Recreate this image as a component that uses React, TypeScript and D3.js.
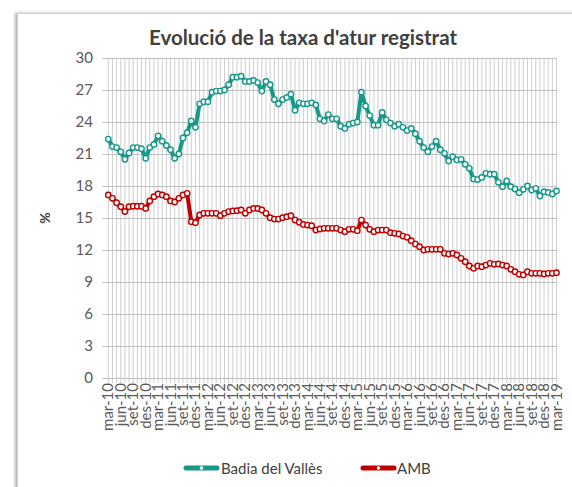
import React from 'react';
import * as d3 from 'd3';

const monthNames = ['mar', 'abr', 'mai', 'jun', 'jul', 'ago', 'set', 'oct', 'nov', 'des', 'gen', 'feb'];
const categories: string[] = Array.from({ length: 109 }, (_, i) => `${monthNames[i % 12]}-${10 + Math.floor((i + 2) / 12)}`);

const tickLabels = [
  'mar-10', 'jun-10', 'set-10', 'des-10', 'mar-11', 'jun-11', 'set-11', 'des-11',
  'mar-12', 'jun-12', 'set-12', 'des-12', 'mar-13', 'jun-13', 'set-13', 'des-13',
  'mar-14', 'jun-14', 'set-14', 'des-14', 'mar-15', 'jun-15', 'set-15', 'des-15',
  'mar-16', 'jun-16', 'set-16', 'des-16', 'mar-17', 'jun-17', 'set-17', 'des-17',
  'mar-18', 'jun-18', 'set-18', 'des-18', 'mar-19',
];

const yTicks = [0, 3, 6, 9, 12, 15, 18, 21, 24, 27, 30];

const badia = [
  22.4, 21.7, 21.6, 21.2, 20.5, 21.1, 21.6, 21.6, 21.5, 20.6,
  21.6, 21.9, 22.7, 22.2, 21.8, 21.4, 20.6, 21.0, 22.5, 23.0, 24.1, 23.5,
  25.7, 25.9, 25.9, 26.8, 26.9, 26.9, 27.0, 27.5, 28.2, 28.2, 28.3, 27.8,
  27.8, 27.9, 27.7, 26.9, 27.8, 27.5, 26.1, 25.7, 26.1, 26.3, 26.6, 25.1,
  25.8, 25.7, 25.7, 25.8, 25.6, 24.3, 24.1, 24.7, 24.3, 24.3, 23.6, 23.4,
  23.8, 23.9, 24.0, 26.8, 25.5, 24.6, 23.7, 23.7, 24.9, 24.2, 23.9, 23.6,
  23.8, 23.5, 23.2, 23.4, 22.9, 22.2, 21.6, 21.2, 21.7, 22.2, 21.4, 21.06,
  20.34, 20.75, 20.44, 20.5, 20.03, 19.66, 18.66, 18.6, 18.8, 19.19, 19.1, 19.1,
  18.34, 17.94, 18.47, 17.94, 17.72, 17.37, 17.69, 18.0, 17.62, 17.78, 17.06, 17.47,
  17.4, 17.25, 17.53,
];

const amb = [
  17.16, 16.84, 16.43, 16.06, 15.6, 16.06, 16.1, 16.1, 16.1, 15.9,
  16.6, 17.0, 17.25, 17.16, 17.0, 16.6, 16.5, 16.84, 17.16, 17.31, 14.66, 14.56,
  15.28, 15.44, 15.44, 15.44, 15.44, 15.22, 15.44, 15.6, 15.66, 15.69, 15.75, 15.44,
  15.75, 15.9, 15.9, 15.75, 15.44, 15.03, 14.9, 14.9, 15.03, 15.12, 15.22, 14.81,
  14.6, 14.4, 14.34, 14.28, 13.87, 13.97, 14.03, 14.03, 14.03, 14.03, 13.87, 13.72,
  13.94, 13.94, 13.81, 14.81, 14.34, 13.94, 13.72, 13.87, 13.87, 13.87, 13.62, 13.56,
  13.5, 13.31, 13.19, 12.87, 12.56, 12.31, 12.0, 12.06, 12.06, 12.06, 12.06, 11.69,
  11.62, 11.69, 11.53, 11.22, 10.9, 10.5, 10.28, 10.5, 10.44, 10.59, 10.75, 10.66,
  10.69, 10.59, 10.5, 10.19, 9.97, 9.72, 9.66, 9.97, 9.81, 9.81, 9.81, 9.75,
  9.81, 9.81, 9.87,
];

const seriesNames = ['Badia del Vallès', 'AMB'];
const seriesColors = ['#16998a', '#c00000'];

const FONT = 'Lato, "Open Sans", sans-serif';

export default function App() {
  const W = 572, H = 487;
  const left = 108.3, right = 556.5, top = 58, bottom = 378;
  const x = d3.scalePoint<string>().domain(categories).range([left, right]);
  const y = d3.scaleLinear().domain([0, 30]).range([bottom, top]);
  const line = d3.line<number>()
    .x((_, i) => x(categories[i]) as number)
    .y((d) => y(d));
  const series = [badia, amb];

  return (
    <svg width={W} height={H} style={{ position: 'absolute', left: 0, top: 0, background: '#fff' }}
      xmlns="http://www.w3.org/2000/svg">
      <defs>
        <filter id="shadow" x="-5%" y="-5%" width="110%" height="110%">
          <feDropShadow dx="-2" dy="0" stdDeviation="1.5" floodColor="#808080" floodOpacity="0.6" />
        </filter>
      </defs>
      <rect x={0} y={0} width={W} height={H} fill="#fff" />
      <rect x={17.5} y={13.5} width={580} height={500} fill="#fff" stroke="#d0d0d0" strokeWidth={1} filter="url(#shadow)" />

      <text x={303} y={45} textAnchor="middle" fontFamily={FONT} fontWeight="bold" fontSize={20.5} fill="#404040">
        Evolució de la taxa d'atur registrat
      </text>

      {categories.map((c) => (
        <line key={c} x1={x(c)} x2={x(c)} y1={top} y2={bottom + 5} stroke="#cfcfcf" strokeWidth={1} />
      ))}
      {yTicks.map((t) => (
        <line key={t} x1={left - 6} x2={right} y1={Math.round(y(t)) + 0.5} y2={Math.round(y(t)) + 0.5} stroke="#bfbfbf" strokeWidth={1} />
      ))}
      {yTicks.map((t) => (
        <text key={'l' + t} x={93} y={y(t) + 5} textAnchor="end" fontFamily={FONT} fontSize={15} fill="#595959">{t}</text>
      ))}
      <text transform={`translate(50,218) rotate(-90)`} textAnchor="middle" fontFamily={FONT} fontWeight="bold" fontSize={14} fill="#404040">%</text>

      {tickLabels.map((lab) => (
        <text key={lab} transform={`translate(${(x(lab) as number) + 5},${bottom + 5}) rotate(-90)`} textAnchor="end"
          fontFamily={FONT} fontSize={15} fill="#595959">{lab}</text>
      ))}

      {series.map((s, si) => (
        <g key={si}>
          <path d={line(s) || ''} fill="none" stroke={seriesColors[si]} strokeWidth={4} strokeLinejoin="round" strokeLinecap="round" />
          {s.map((v, i) => (
            <circle key={i} cx={x(categories[i])} cy={y(v)} r={2.7} fill="#fff" stroke={seriesColors[si]} strokeWidth={1.4} />
          ))}
        </g>
      ))}

      {[{ x0: 184, tx: 221 }, { x0: 361, tx: 397 }].map((lg, i) => (
        <g key={i}>
          <line x1={lg.x0 + 2} x2={lg.x0 + 33} y1={468} y2={468} stroke={seriesColors[i]} strokeWidth={5} strokeLinecap="round" />
          <circle cx={lg.x0 + 17.5} cy={468} r={1.8} fill="#fff" />
          <text x={lg.tx} y={473.5} fontFamily={FONT} fontSize={15} fill="#404040">{seriesNames[i]}</text>
        </g>
      ))}
    </svg>
  );
}
